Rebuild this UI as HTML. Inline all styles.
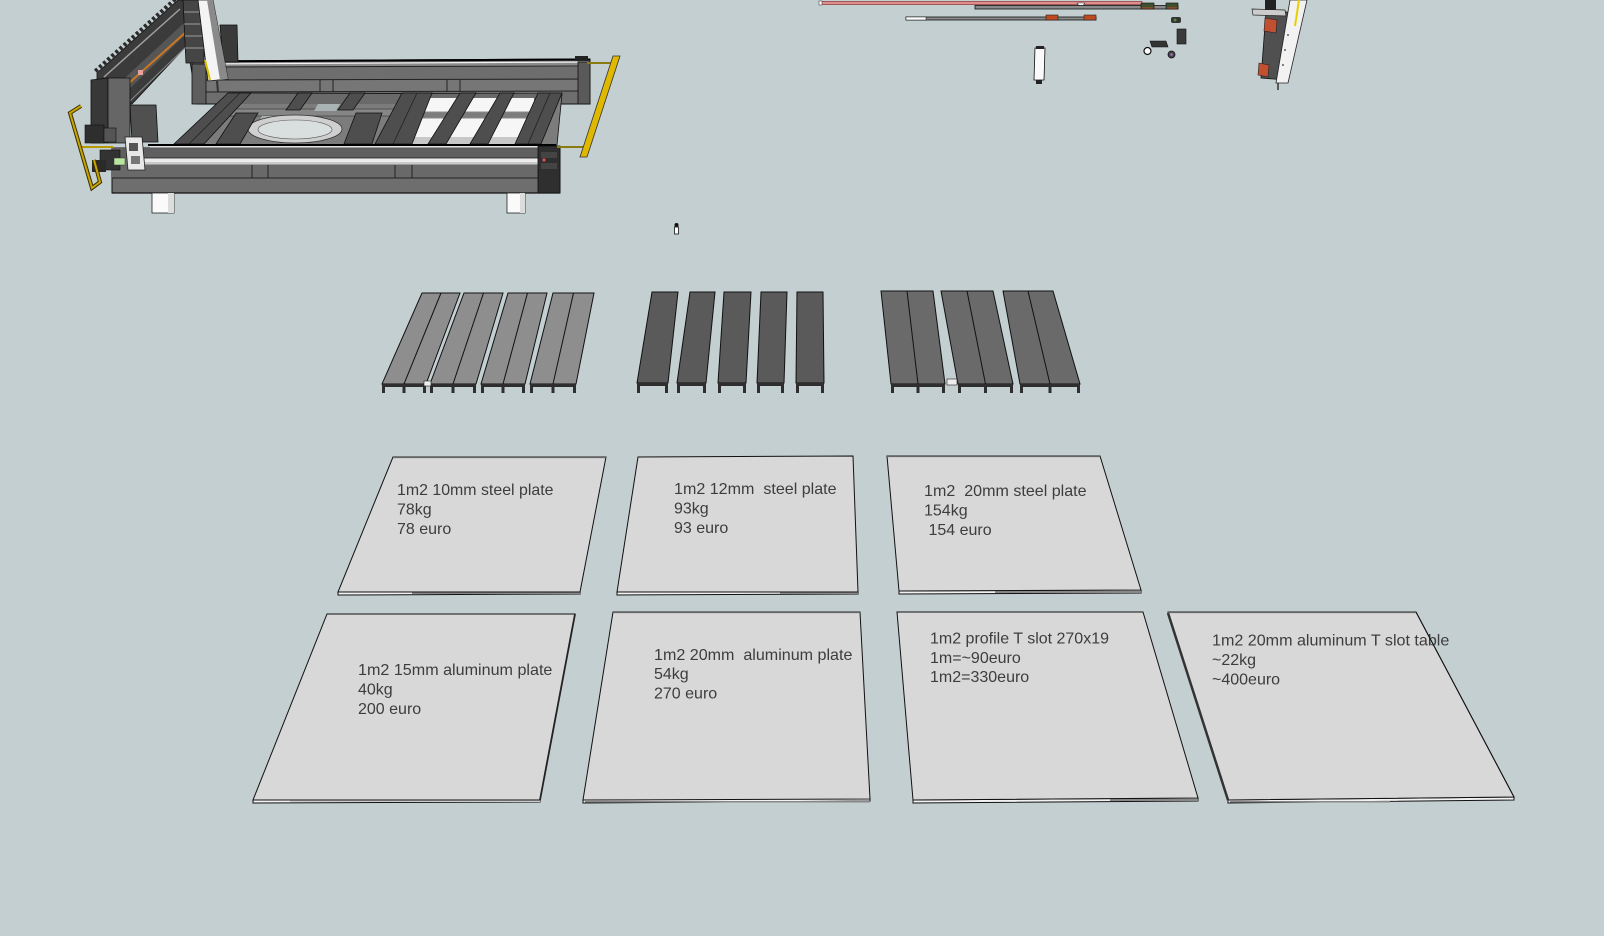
<!DOCTYPE html>
<html><head><meta charset="utf-8"><style>
html,body{margin:0;padding:0;background:#c3cfd1;}
svg{display:block;}
text{font-family:"Liberation Sans",Arial,sans-serif;font-size:16px;fill:#3d3d3d;white-space:pre;}
</style></head><body>
<svg width="1604" height="936" viewBox="0 0 1604 936" xmlns="http://www.w3.org/2000/svg">
<rect width="1604" height="936" fill="#c3cfd1"/>

<!-- ================= MACHINE (top-left) ================= -->
<!-- back beam -->
<polygon points="190,61 590,59 590,104 197,104" fill="#6e6e6e" stroke="#111" stroke-width="1"/>
<rect x="192" y="62" width="396" height="5" fill="#8a8a8a"/>
<line x1="190" y1="61.5" x2="590" y2="59.5" stroke="#000" stroke-width="2"/>
<line x1="193" y1="64" x2="588" y2="62" stroke="#f4f4f4" stroke-width="1.2"/>
<line x1="193" y1="67" x2="588" y2="66" stroke="#222" stroke-width="1"/>
<rect x="195" y="80" width="393" height="12" fill="#767676"/>
<line x1="195" y1="80" x2="588" y2="79" stroke="#222" stroke-width="1"/>
<line x1="197" y1="92" x2="588" y2="91" stroke="#222" stroke-width="1"/>
<line x1="320" y1="80" x2="320" y2="92" stroke="#222"/>
<line x1="333" y1="80" x2="333" y2="92" stroke="#222"/>
<line x1="447" y1="80" x2="447" y2="92" stroke="#222"/>
<line x1="460" y1="80" x2="460" y2="92" stroke="#222"/>
<rect x="192" y="64" width="14" height="40" fill="#5e5e5e" stroke="#111" stroke-width="0.8"/>
<rect x="575" y="56" width="13" height="5" fill="#222"/>
<rect x="578" y="62" width="12" height="42" fill="#5a5a5a" stroke="#111" stroke-width="0.8"/>

<!-- interior floor -->
<polygon points="174,145 230,93 562,94 557,145" fill="#7c7c7c" stroke="#111" stroke-width="0.8"/>
<rect x="236" y="94" width="320" height="10" fill="#6a6a6a"/>
<polygon points="230,109 395,109 393,116 224,116" fill="#868686" stroke="#222" stroke-width="0.6"/>
<!-- background gaps in interior -->
<polygon points="262,116 300,116 296,128 255,128" fill="#a9b3b4"/>
<polygon points="318,104 340,104 336,111 314,111" fill="#a9b3b4"/>
<!-- white slots -->
<rect x="410" y="98" width="124" height="14" fill="#f6f6f6"/>
<rect x="406" y="118" width="126" height="19" fill="#f6f6f6"/>
<rect x="404" y="137" width="130" height="7" fill="#c8c8c8"/>
<line x1="410" y1="112" x2="534" y2="112" stroke="#888" stroke-width="1"/>
<line x1="406" y1="118" x2="532" y2="118" stroke="#888" stroke-width="1"/>
<!-- ring -->
<ellipse cx="295" cy="129" rx="47" ry="14" fill="#cfcfcf" stroke="#333" stroke-width="0.8"/>
<ellipse cx="295" cy="129.5" rx="37" ry="9.5" fill="#d9dede" stroke="#555" stroke-width="0.6"/>
<!-- diagonal cross beams -->
<g fill="#4e4e4e" stroke="#111" stroke-width="0.8">
<polygon points="174,144 204,144 251,93 228,93"/>
<polygon points="216,144 240,144 258,113 236,113"/>
<polygon points="344,144 372,144 382,113 356,113"/>
<polygon points="286,110 300,110 312,93 298,93"/>
<polygon points="338,110 353,110 365,93 350,93"/>
<polygon points="375,144 412,144 432,93 402,93"/>
<polygon points="428,144 446,144 476,93 460,93"/>
<polygon points="470,144 488,144 514,93 500,93"/>
<polygon points="515,144 541,144 562,93 538,93"/>
</g>
<line x1="189" y1="144" x2="240" y2="93" stroke="#222" stroke-width="0.8"/>
<line x1="393" y1="144" x2="417" y2="93" stroke="#222" stroke-width="0.8"/>
<line x1="528" y1="144" x2="550" y2="93" stroke="#222" stroke-width="0.8"/>

<!-- front beam -->
<polygon points="112,148 560,148 560,193 112,193" fill="#6e6e6e" stroke="#111" stroke-width="1"/>
<rect x="112" y="148" width="448" height="10" fill="#5f5f5f"/>
<line x1="148" y1="145" x2="556" y2="145" stroke="#000" stroke-width="2"/>
<line x1="150" y1="147" x2="554" y2="147" stroke="#f0f0f0" stroke-width="1.2"/>
<rect x="140" y="158" width="405" height="7" fill="#ececec" stroke="#222" stroke-width="0.8"/>
<line x1="142" y1="163" x2="543" y2="163" stroke="#a8a8a8" stroke-width="1"/>
<rect x="112" y="165" width="448" height="13" fill="#696969"/>
<line x1="112" y1="178" x2="560" y2="178" stroke="#222" stroke-width="1"/>
<line x1="112" y1="193" x2="560" y2="193" stroke="#111" stroke-width="1.2"/>
<line x1="252" y1="165" x2="252" y2="178" stroke="#222"/>
<line x1="268" y1="165" x2="268" y2="178" stroke="#222"/>
<line x1="395" y1="165" x2="395" y2="178" stroke="#222"/>
<line x1="412" y1="165" x2="412" y2="178" stroke="#222"/>
<rect x="538" y="146" width="22" height="47" fill="#2f2f2f" stroke="#111" stroke-width="0.8"/>
<rect x="541" y="152" width="16" height="6" fill="#444"/>
<rect x="541" y="163" width="16" height="6" fill="#444"/>
<circle cx="544" cy="160" r="1.6" fill="#e05050"/>
<!-- legs -->
<rect x="152" y="193" width="22" height="20" fill="#fafafa" stroke="#222" stroke-width="0.8"/>
<rect x="168" y="193" width="6" height="20" fill="#dcdcdc"/>
<rect x="507" y="193" width="18" height="20" fill="#fafafa" stroke="#222" stroke-width="0.8"/>
<rect x="520" y="193" width="5" height="20" fill="#dcdcdc"/>

<!-- gantry diagonal beam -->
<polygon points="97,73 178,0 192,0 192,40 132,104 108,104 97,90" fill="#3b3b3b" stroke="#111" stroke-width="0.8"/>
<line x1="95.3" y1="71.1" x2="176.3" y2="-1.9" stroke="#2a2a2a" stroke-width="4" stroke-dasharray="3 2.5"/>
<line x1="104" y1="77" x2="180" y2="9" stroke="#a0a0a0" stroke-width="1.5"/>
<polygon points="112,90 185,22 190,30 120,98" fill="#565656"/>
<line x1="128" y1="84" x2="186" y2="32" stroke="#c87820" stroke-width="2"/>
<rect x="138" y="70" width="5" height="5" fill="#e8a0a0"/>
<line x1="130" y1="101" x2="190" y2="43" stroke="#8a8a8a" stroke-width="1"/>
<!-- gantry column -->
<polygon points="91,80 108,78 108,143 91,143" fill="#383838" stroke="#111" stroke-width="0.8"/>
<polygon points="108,78 130,78 130,143 108,143" fill="#666" stroke="#111" stroke-width="0.8"/>
<polygon points="130,105 156,105 158,142 132,142" fill="#505050" stroke="#111" stroke-width="0.8"/>
<!-- left end stuff -->
<rect x="85" y="125" width="19" height="18" fill="#2e2e2e" stroke="#111" stroke-width="0.6"/>
<rect x="104" y="128" width="12" height="14" fill="#555" stroke="#111" stroke-width="0.6"/>
<rect x="100" y="150" width="20" height="20" fill="#333" stroke="#111" stroke-width="0.6"/>
<rect x="92" y="160" width="14" height="12" fill="#2a2a2a"/>
<rect x="114" y="158" width="11" height="7" fill="#b8e6a0" stroke="#333" stroke-width="0.5"/>
<polygon points="125,137 142,137 145,170 128,170" fill="#e8e8e8" stroke="#222" stroke-width="0.8"/>
<rect x="129" y="143" width="9" height="8" fill="#555"/>
<rect x="131" y="156" width="9" height="8" fill="#777"/>
<line x1="80" y1="147" x2="113" y2="147" stroke="#b89a00" stroke-width="2"/>
<!-- left yellow bracket -->
<polyline points="81,106 70,113 92,188 100,182 94,160" fill="none" stroke="#3a3000" stroke-width="4"/>
<polyline points="81,106 70,113 92,188 100,182 94,160" fill="none" stroke="#c8a400" stroke-width="2"/>
<!-- Z axis -->
<polygon points="183,0 204,0 204,63 186,63" fill="#454545" stroke="#111" stroke-width="0.8"/>
<line x1="184" y1="12" x2="204" y2="12" stroke="#bbb" stroke-width="0.8"/>
<line x1="184" y1="24" x2="204" y2="24" stroke="#bbb" stroke-width="0.8"/>
<line x1="185" y1="36" x2="204" y2="36" stroke="#bbb" stroke-width="0.8"/>
<line x1="185" y1="48" x2="204" y2="48" stroke="#bbb" stroke-width="0.8"/>
<polygon points="220,25 237,25 238,62 223,62" fill="#3a3a3a" stroke="#111" stroke-width="0.8"/>
<polygon points="198,0 213,0 228,79 208,81" fill="#f4f4f4" stroke="#111" stroke-width="0.8"/>
<polygon points="207,0 213,0 228,79 220,80" fill="#8a8a8a"/>
<line x1="205" y1="60" x2="210" y2="80" stroke="#d8c000" stroke-width="2"/>
<line x1="217" y1="81" x2="218" y2="92" stroke="#333" stroke-width="2"/>
<!-- right yellow -->
<line x1="587" y1="63" x2="615" y2="63" stroke="#8a7a10" stroke-width="2"/>
<line x1="557" y1="147" x2="584" y2="147" stroke="#8a7a10" stroke-width="2"/>
<polygon points="613,56 620,56 587,157 580,157" fill="#e0b800" stroke="#333" stroke-width="0.8"/>

<!-- small item -->
<circle cx="676.5" cy="225" r="2" fill="#111"/>
<rect x="674.5" y="227" width="4" height="7" fill="#fff" stroke="#111" stroke-width="0.8"/>

<!-- ================= TOP RIGHT PARTS ================= -->
<rect x="820" y="1.5" width="322" height="3" fill="#e8a8a8" stroke="#8a3030" stroke-width="0.7"/>
<line x1="822" y1="3" x2="1140" y2="3" stroke="#d06060" stroke-width="0.8"/>
<rect x="819" y="1" width="3" height="4" fill="#fff" stroke="#333" stroke-width="0.5"/>
<polygon points="1077,3 1085,3 1081,8" fill="#fff" stroke="#333" stroke-width="0.6"/>
<rect x="975" y="5.5" width="203" height="3.5" fill="#8a8a8a" stroke="#111" stroke-width="0.8"/>
<rect x="1141" y="3" width="13" height="6" fill="#3e5030" stroke="#111" stroke-width="0.6"/>
<rect x="1166" y="3" width="12" height="6" fill="#3e5030" stroke="#111" stroke-width="0.6"/>
<line x1="1142" y1="8" x2="1153" y2="8" stroke="#c05020" stroke-width="1"/>
<line x1="1167" y1="8" x2="1177" y2="8" stroke="#c05020" stroke-width="1"/>
<rect x="906" y="17" width="190" height="3" fill="#8a8a8a" stroke="#111" stroke-width="0.8"/>
<rect x="906" y="17" width="20" height="3" fill="#fff" stroke="#111" stroke-width="0.5"/>
<rect x="1046" y="15" width="12" height="5" fill="#c04a20" stroke="#222" stroke-width="0.6"/>
<rect x="1084" y="15" width="12" height="5" fill="#c04a20" stroke="#222" stroke-width="0.6"/>
<!-- spindle -->
<polygon points="1035,48 1045,48 1044,80 1034,80" fill="#fafafa" stroke="#111" stroke-width="0.8"/>
<rect x="1036" y="46" width="8" height="3" fill="#222"/>
<rect x="1036" y="80" width="6" height="4" fill="#222"/>
<!-- small parts -->
<rect x="1171" y="17" width="10" height="6" rx="2" fill="#333"/>
<circle cx="1175" cy="20" r="1.5" fill="#4a8a3a"/>
<rect x="1177" y="29" width="9" height="15" fill="#3a3a3a" stroke="#111" stroke-width="0.6"/>
<polygon points="1150,41 1166,41 1168,47 1152,47" fill="#333" stroke="#111" stroke-width="0.6"/>
<circle cx="1147.5" cy="51" r="3.5" fill="#fff" stroke="#111" stroke-width="1.2"/>
<circle cx="1171.5" cy="54.5" r="3.5" fill="#444" stroke="#111" stroke-width="0.8"/>
<circle cx="1171.5" cy="54.5" r="1.3" fill="#a070c0"/>
<!-- right Z assembly -->
<polygon points="1266,12 1292,12 1286,80 1261,78" fill="#505050" stroke="#111" stroke-width="0.8"/>
<polygon points="1252,9 1285,10 1286,16 1253,15" fill="#cccccc" stroke="#222" stroke-width="0.7"/>
<rect x="1265" y="0" width="11" height="10" fill="#222"/>
<polygon points="1290,0 1307,0 1288,83 1276,83" fill="#f2f2f2" stroke="#222" stroke-width="0.8"/>
<line x1="1299" y1="0" x2="1295" y2="26" stroke="#e8d000" stroke-width="2"/>
<polygon points="1265,18 1277,20 1276,33 1264,31" fill="#c05030" stroke="#222" stroke-width="0.6"/>
<polygon points="1259,63 1269,65 1268,77 1258,75" fill="#c05030" stroke="#222" stroke-width="0.6"/>
<circle cx="1288" cy="35" r="0.9" fill="#333"/>
<circle cx="1285" cy="50" r="0.9" fill="#333"/>
<circle cx="1283" cy="65" r="0.9" fill="#333"/>
<line x1="1278" y1="83" x2="1278" y2="90" stroke="#333" stroke-width="1.5"/>

<!-- ================= BEAMS ================= -->
<!-- group 1 light -->
<g stroke="#111" stroke-width="1">
<polygon points="422,293 460,293 426,384 382,384" fill="#8e8e8e"/>
<polygon points="464,293 503,293 476,384 430,384" fill="#8e8e8e"/>
<polygon points="508,293 547,293 525,384 481,384" fill="#8e8e8e"/>
<polygon points="553,293 594,293 576,384 530,384" fill="#8e8e8e"/>
<line x1="441" y1="293" x2="404" y2="384"/>
<line x1="483.5" y1="293" x2="453" y2="384"/>
<line x1="527.5" y1="293" x2="503" y2="384"/>
<line x1="573.5" y1="293" x2="553" y2="384"/>
</g>
<g fill="#2e2e2e">
<rect x="382" y="384" width="44" height="3"/><rect x="430" y="384" width="46" height="3"/>
<rect x="481" y="384" width="44" height="3"/><rect x="530" y="384" width="46" height="3"/>
<rect x="382" y="384" width="3" height="9"/><rect x="402.5" y="384" width="3" height="9"/><rect x="423" y="384" width="3" height="9"/>
<rect x="430" y="384" width="3" height="9"/><rect x="451.5" y="384" width="3" height="9"/><rect x="473" y="384" width="3" height="9"/>
<rect x="481" y="384" width="3" height="9"/><rect x="501.5" y="384" width="3" height="9"/><rect x="522" y="384" width="3" height="9"/>
<rect x="530" y="384" width="3" height="9"/><rect x="551.5" y="384" width="3" height="9"/><rect x="573" y="384" width="3" height="9"/>
</g>
<rect x="424" y="381" width="7" height="5" fill="#eee" stroke="#222" stroke-width="0.6"/>
<!-- group 2 dark -->
<g stroke="#111" stroke-width="1" fill="#5a5a5a">
<polygon points="652,292 678,292 668,383 637,383"/>
<polygon points="690,292 715,292 706,383 677,383"/>
<polygon points="724,292 751,292 746,383 718,383"/>
<polygon points="761,292 787,292 784,383 757,383"/>
<polygon points="797,292 823,292 824,383 796,383"/>
</g>
<g fill="#2e2e2e">
<rect x="637" y="383" width="31" height="3"/><rect x="677" y="383" width="29" height="3"/>
<rect x="718" y="383" width="28" height="3"/><rect x="757" y="383" width="27" height="3"/><rect x="796" y="383" width="28" height="3"/>
<rect x="637" y="383" width="3" height="10"/><rect x="665" y="383" width="3" height="10"/>
<rect x="677" y="383" width="3" height="10"/><rect x="703" y="383" width="3" height="10"/>
<rect x="718" y="383" width="3" height="10"/><rect x="743" y="383" width="3" height="10"/>
<rect x="757" y="383" width="3" height="10"/><rect x="781" y="383" width="3" height="10"/>
<rect x="796" y="383" width="3" height="10"/><rect x="821" y="383" width="3" height="10"/>
</g>
<!-- group 3 -->
<g stroke="#111" stroke-width="1" fill="#6a6a6a">
<polygon points="881,291 933,291 945,384 891,384"/>
<polygon points="941,291 993,291 1013,384 958,384"/>
<polygon points="1003,291 1053,291 1080,384 1020,384"/>
<line x1="907" y1="291" x2="918" y2="384"/>
<line x1="967" y1="291" x2="985.5" y2="384"/>
<line x1="1028" y1="291" x2="1050" y2="384"/>
</g>
<g fill="#2e2e2e">
<rect x="891" y="384" width="54" height="3"/><rect x="958" y="384" width="55" height="3"/><rect x="1020" y="384" width="60" height="3"/>
<rect x="891" y="384" width="3" height="9"/><rect x="916.5" y="384" width="3" height="9"/><rect x="942" y="384" width="3" height="9"/>
<rect x="958" y="384" width="3" height="9"/><rect x="984" y="384" width="3" height="9"/><rect x="1010" y="384" width="3" height="9"/>
<rect x="1020" y="384" width="3" height="9"/><rect x="1048.5" y="384" width="3" height="9"/><rect x="1077" y="384" width="3" height="9"/>
</g>
<rect x="947" y="379" width="10" height="6" fill="#eee" stroke="#222" stroke-width="0.6"/>

<!-- ================= PLATES ================= -->
<g stroke="#111" stroke-width="1">
<!-- plate strips -->
<polygon points="338,592 580,591 580,594 338,595" fill="#f2f2f2"/>
<polygon points="617,592 858,591 858,594 617,595" fill="#f2f2f2"/>
<polygon points="899,591 1141,590 1141,593 899,594" fill="#f2f2f2"/>
<polygon points="253,800 540,799 540,802 253,803" fill="#f2f2f2"/>
<polygon points="583,800 870,798 870,801 583,803" fill="#f2f2f2"/>
<polygon points="913,800 1198,798 1198,801 913,803" fill="#f2f2f2"/>
<polygon points="1228,800 1514,797 1514,800 1228,803" fill="#f2f2f2"/>
</g>
<g fill="#888">
<rect x="412" y="592" width="168" height="2"/>
<rect x="780" y="592" width="78" height="2"/>
<rect x="995" y="591" width="146" height="2"/>
<rect x="290" y="800" width="250" height="2" fill="#ccc"/>
<rect x="585" y="801" width="285" height="1.5"/>
<rect x="1110" y="799" width="88" height="2"/>
<rect x="1230" y="801" width="160" height="1.5"/>
</g>
<g fill="#d8d8d8" stroke="#111" stroke-width="1">
<polygon points="393,457 606,457 580,592 338,592"/>
<polygon points="638,457 853,456 858,592 617,592"/>
<polygon points="887,456 1100,456 1141,590 899,591"/>
<polygon points="327,614 575,614 540,800 253,800"/>
<polygon points="613,612 860,612 870,799 583,800"/>
<polygon points="897,612 1143,612 1198,798 913,800"/>
<polygon points="1168,612 1416,612 1514,797 1228,800"/>
</g>
<g stroke="#666" stroke-width="1.2" fill="none">
<line x1="393" y1="457.5" x2="606" y2="457.5"/>
<line x1="887" y1="456.5" x2="1100" y2="456.5"/>
<line x1="1168" y1="612.5" x2="1416" y2="612.5"/>
<line x1="613" y1="612.5" x2="860" y2="612.5"/>
</g>
<line x1="1168" y1="613" x2="1228" y2="800" stroke="#333" stroke-width="2.5"/>
<line x1="575" y1="614" x2="540" y2="800" stroke="#222" stroke-width="1.8"/>

<!-- plate text -->
<text x="397" y="495" textLength="156.5" lengthAdjust="spacingAndGlyphs">1m2 10mm steel plate</text>
<text x="397" y="514.5">78kg</text>
<text x="397" y="534">78 euro</text>

<text x="674" y="494" textLength="162.6" lengthAdjust="spacingAndGlyphs">1m2 12mm  steel plate</text>
<text x="674" y="513.5">93kg</text>
<text x="674" y="533">93 euro</text>

<text x="924" y="496" textLength="162.6" lengthAdjust="spacingAndGlyphs">1m2  20mm steel plate</text>
<text x="924" y="515.5">154kg</text>
<text x="924" y="535"> 154 euro</text>

<text x="358" y="675" textLength="194.4" lengthAdjust="spacingAndGlyphs">1m2 15mm aluminum plate</text>
<text x="358" y="694.5">40kg</text>
<text x="358" y="714">200 euro</text>

<text x="654" y="660" textLength="198.4" lengthAdjust="spacingAndGlyphs">1m2 20mm  aluminum plate</text>
<text x="654" y="679">54kg</text>
<text x="654" y="698.5">270 euro</text>

<text x="930" y="643.5" textLength="179" lengthAdjust="spacingAndGlyphs">1m2 profile T slot 270x19</text>
<text x="930" y="663">1m=~90euro</text>
<text x="930" y="682">1m2=330euro</text>

<text x="1212" y="645.5" textLength="237.3" lengthAdjust="spacingAndGlyphs">1m2 20mm aluminum T slot table</text>
<text x="1212" y="665">~22kg</text>
<text x="1212" y="684.5">~400euro</text>
<line x1="1416" y1="612" x2="1514" y2="797" stroke="#111" stroke-width="1"/>
</svg>
</body></html>
